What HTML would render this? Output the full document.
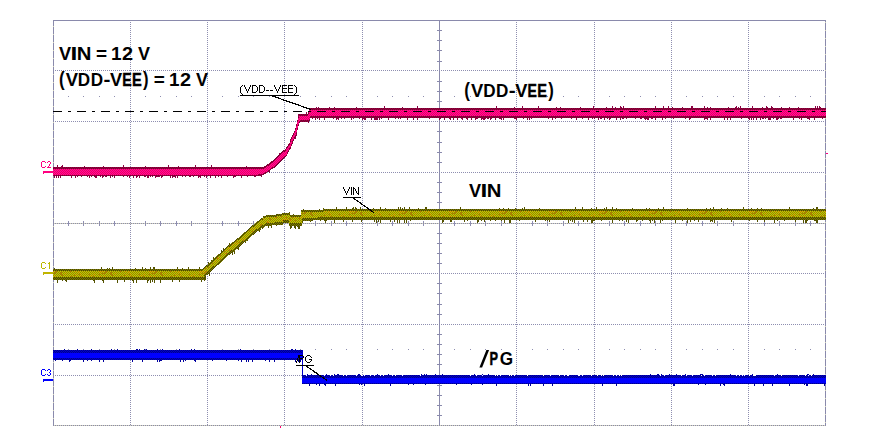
<!DOCTYPE html>
<html><head><meta charset="utf-8"><title>Scope capture</title>
<style>html,body{margin:0;padding:0;background:#fff;width:892px;height:443px;overflow:hidden}svg{display:block}
text{font-family:"Liberation Sans",sans-serif}</style></head>
<body><svg width="892" height="443" viewBox="0 0 892 443"><defs>
<pattern id="pmb" width="2" height="2" patternUnits="userSpaceOnUse"><rect width="2" height="2" fill="#ff0a9c"/><rect width="1" height="1" fill="#f0005e"/><rect x="1" y="1" width="1" height="1" fill="#f0005e"/></pattern>
<pattern id="pmd" width="2" height="2" patternUnits="userSpaceOnUse"><rect width="2" height="2" fill="#6e003a"/><rect width="1" height="1" fill="#a00036"/><rect x="1" y="1" width="1" height="1" fill="#a00036"/></pattern>
<pattern id="pyb" width="50" height="12" patternUnits="userSpaceOnUse"><rect width="50" height="12" fill="#c8c400"/><path d="M0,0h1v1h-1zM2,0h1v1h-1zM4,0h1v1h-1zM6,0h1v1h-1zM8,0h1v1h-1zM10,0h1v1h-1zM12,0h1v1h-1zM14,0h1v1h-1zM16,0h1v1h-1zM18,0h1v1h-1zM20,0h1v1h-1zM22,0h1v1h-1zM24,0h1v1h-1zM26,0h1v1h-1zM28,0h1v1h-1zM30,0h1v1h-1zM32,0h1v1h-1zM34,0h1v1h-1zM36,0h1v1h-1zM38,0h1v1h-1zM40,0h1v1h-1zM42,0h1v1h-1zM44,0h1v1h-1zM46,0h1v1h-1zM48,0h1v1h-1zM1,1h1v1h-1zM3,1h1v1h-1zM5,1h1v1h-1zM7,1h1v1h-1zM9,1h1v1h-1zM11,1h1v1h-1zM13,1h1v1h-1zM15,1h1v1h-1zM17,1h1v1h-1zM19,1h1v1h-1zM21,1h1v1h-1zM23,1h1v1h-1zM25,1h1v1h-1zM27,1h1v1h-1zM29,1h1v1h-1zM31,1h1v1h-1zM33,1h1v1h-1zM35,1h1v1h-1zM37,1h1v1h-1zM39,1h1v1h-1zM41,1h1v1h-1zM43,1h1v1h-1zM45,1h1v1h-1zM47,1h1v1h-1zM49,1h1v1h-1zM0,2h1v1h-1zM2,2h1v1h-1zM4,2h1v1h-1zM6,2h1v1h-1zM8,2h1v1h-1zM10,2h1v1h-1zM12,2h1v1h-1zM14,2h1v1h-1zM16,2h1v1h-1zM18,2h1v1h-1zM20,2h1v1h-1zM22,2h1v1h-1zM24,2h1v1h-1zM26,2h1v1h-1zM28,2h1v1h-1zM30,2h1v1h-1zM32,2h1v1h-1zM34,2h1v1h-1zM36,2h1v1h-1zM38,2h1v1h-1zM40,2h1v1h-1zM42,2h1v1h-1zM44,2h1v1h-1zM46,2h1v1h-1zM48,2h1v1h-1zM1,3h1v1h-1zM3,3h1v1h-1zM5,3h1v1h-1zM7,3h1v1h-1zM9,3h1v1h-1zM11,3h1v1h-1zM13,3h1v1h-1zM15,3h1v1h-1zM17,3h1v1h-1zM19,3h1v1h-1zM21,3h1v1h-1zM23,3h1v1h-1zM25,3h1v1h-1zM27,3h1v1h-1zM29,3h1v1h-1zM31,3h1v1h-1zM33,3h1v1h-1zM35,3h1v1h-1zM37,3h1v1h-1zM39,3h1v1h-1zM41,3h1v1h-1zM43,3h1v1h-1zM45,3h1v1h-1zM47,3h1v1h-1zM49,3h1v1h-1zM0,4h1v1h-1zM2,4h1v1h-1zM4,4h1v1h-1zM6,4h1v1h-1zM8,4h1v1h-1zM10,4h1v1h-1zM12,4h1v1h-1zM14,4h1v1h-1zM16,4h1v1h-1zM18,4h1v1h-1zM20,4h1v1h-1zM22,4h1v1h-1zM24,4h1v1h-1zM26,4h1v1h-1zM28,4h1v1h-1zM30,4h1v1h-1zM32,4h1v1h-1zM34,4h1v1h-1zM36,4h1v1h-1zM38,4h1v1h-1zM40,4h1v1h-1zM42,4h1v1h-1zM44,4h1v1h-1zM46,4h1v1h-1zM48,4h1v1h-1zM1,5h1v1h-1zM3,5h1v1h-1zM5,5h1v1h-1zM7,5h1v1h-1zM9,5h1v1h-1zM11,5h1v1h-1zM13,5h1v1h-1zM15,5h1v1h-1zM17,5h1v1h-1zM19,5h1v1h-1zM21,5h1v1h-1zM23,5h1v1h-1zM25,5h1v1h-1zM27,5h1v1h-1zM29,5h1v1h-1zM31,5h1v1h-1zM33,5h1v1h-1zM35,5h1v1h-1zM37,5h1v1h-1zM39,5h1v1h-1zM41,5h1v1h-1zM43,5h1v1h-1zM45,5h1v1h-1zM47,5h1v1h-1zM49,5h1v1h-1zM0,6h1v1h-1zM2,6h1v1h-1zM4,6h1v1h-1zM6,6h1v1h-1zM8,6h1v1h-1zM10,6h1v1h-1zM12,6h1v1h-1zM14,6h1v1h-1zM16,6h1v1h-1zM18,6h1v1h-1zM20,6h1v1h-1zM22,6h1v1h-1zM24,6h1v1h-1zM26,6h1v1h-1zM28,6h1v1h-1zM30,6h1v1h-1zM32,6h1v1h-1zM34,6h1v1h-1zM36,6h1v1h-1zM38,6h1v1h-1zM40,6h1v1h-1zM42,6h1v1h-1zM44,6h1v1h-1zM46,6h1v1h-1zM48,6h1v1h-1zM1,7h1v1h-1zM3,7h1v1h-1zM5,7h1v1h-1zM7,7h1v1h-1zM9,7h1v1h-1zM11,7h1v1h-1zM13,7h1v1h-1zM15,7h1v1h-1zM17,7h1v1h-1zM19,7h1v1h-1zM21,7h1v1h-1zM23,7h1v1h-1zM25,7h1v1h-1zM27,7h1v1h-1zM29,7h1v1h-1zM31,7h1v1h-1zM33,7h1v1h-1zM35,7h1v1h-1zM37,7h1v1h-1zM39,7h1v1h-1zM41,7h1v1h-1zM43,7h1v1h-1zM45,7h1v1h-1zM47,7h1v1h-1zM49,7h1v1h-1zM0,8h1v1h-1zM2,8h1v1h-1zM4,8h1v1h-1zM6,8h1v1h-1zM8,8h1v1h-1zM10,8h1v1h-1zM12,8h1v1h-1zM14,8h1v1h-1zM16,8h1v1h-1zM18,8h1v1h-1zM20,8h1v1h-1zM22,8h1v1h-1zM24,8h1v1h-1zM26,8h1v1h-1zM28,8h1v1h-1zM30,8h1v1h-1zM32,8h1v1h-1zM34,8h1v1h-1zM36,8h1v1h-1zM38,8h1v1h-1zM40,8h1v1h-1zM42,8h1v1h-1zM44,8h1v1h-1zM46,8h1v1h-1zM48,8h1v1h-1zM1,9h1v1h-1zM3,9h1v1h-1zM5,9h1v1h-1zM7,9h1v1h-1zM9,9h1v1h-1zM11,9h1v1h-1zM13,9h1v1h-1zM15,9h1v1h-1zM17,9h1v1h-1zM19,9h1v1h-1zM21,9h1v1h-1zM23,9h1v1h-1zM25,9h1v1h-1zM27,9h1v1h-1zM29,9h1v1h-1zM31,9h1v1h-1zM33,9h1v1h-1zM35,9h1v1h-1zM37,9h1v1h-1zM39,9h1v1h-1zM41,9h1v1h-1zM43,9h1v1h-1zM45,9h1v1h-1zM47,9h1v1h-1zM49,9h1v1h-1zM0,10h1v1h-1zM2,10h1v1h-1zM4,10h1v1h-1zM6,10h1v1h-1zM8,10h1v1h-1zM10,10h1v1h-1zM12,10h1v1h-1zM14,10h1v1h-1zM16,10h1v1h-1zM18,10h1v1h-1zM20,10h1v1h-1zM22,10h1v1h-1zM24,10h1v1h-1zM26,10h1v1h-1zM28,10h1v1h-1zM30,10h1v1h-1zM32,10h1v1h-1zM34,10h1v1h-1zM36,10h1v1h-1zM38,10h1v1h-1zM40,10h1v1h-1zM42,10h1v1h-1zM44,10h1v1h-1zM46,10h1v1h-1zM48,10h1v1h-1zM1,11h1v1h-1zM3,11h1v1h-1zM5,11h1v1h-1zM7,11h1v1h-1zM9,11h1v1h-1zM11,11h1v1h-1zM13,11h1v1h-1zM15,11h1v1h-1zM17,11h1v1h-1zM19,11h1v1h-1zM21,11h1v1h-1zM23,11h1v1h-1zM25,11h1v1h-1zM27,11h1v1h-1zM29,11h1v1h-1zM31,11h1v1h-1zM33,11h1v1h-1zM35,11h1v1h-1zM37,11h1v1h-1zM39,11h1v1h-1zM41,11h1v1h-1zM43,11h1v1h-1zM45,11h1v1h-1zM47,11h1v1h-1zM49,11h1v1h-1z" fill="#8e8c00"/><path d="M28,8h1v1h-1zM49,7h1v1h-1zM28,8h1v1h-1zM37,3h1v1h-1zM11,8h1v1h-1zM30,10h1v1h-1zM39,2h1v1h-1zM6,7h1v1h-1zM19,2h1v1h-1zM5,8h1v1h-1zM44,10h1v1h-1zM2,9h1v1h-1zM25,7h1v1h-1zM41,11h1v1h-1zM39,10h1v1h-1zM10,9h1v1h-1zM0,8h1v1h-1zM4,0h1v1h-1zM2,3h1v1h-1zM15,9h1v1h-1zM1,7h1v1h-1zM20,7h1v1h-1zM37,3h1v1h-1zM33,3h1v1h-1zM40,4h1v1h-1zM31,0h1v1h-1zM42,1h1v1h-1zM29,10h1v1h-1zM17,6h1v1h-1zM35,1h1v1h-1zM45,4h1v1h-1zM20,3h1v1h-1zM32,4h1v1h-1zM1,1h1v1h-1zM36,1h1v1h-1zM25,1h1v1h-1zM18,6h1v1h-1zM4,0h1v1h-1zM43,0h1v1h-1zM13,3h1v1h-1zM3,7h1v1h-1zM24,11h1v1h-1zM25,6h1v1h-1zM4,9h1v1h-1zM40,3h1v1h-1zM49,10h1v1h-1zM17,5h1v1h-1zM5,4h1v1h-1zM21,0h1v1h-1zM26,1h1v1h-1zM8,3h1v1h-1zM45,1h1v1h-1zM0,0h1v1h-1zM29,7h1v1h-1zM11,10h1v1h-1zM35,3h1v1h-1zM28,8h1v1h-1zM12,11h1v1h-1zM49,2h1v1h-1zM26,10h1v1h-1z" fill="#c47400"/></pattern>
<pattern id="pyd" width="2" height="2" patternUnits="userSpaceOnUse"><rect width="2" height="2" fill="#4a4800"/><rect width="1" height="1" fill="#7c7a00"/><rect x="1" y="1" width="1" height="1" fill="#7c7a00"/></pattern>
<pattern id="pbd" width="2" height="2" patternUnits="userSpaceOnUse"><rect width="2" height="2" fill="#00008c"/><rect width="1" height="1" fill="#0000c8"/><rect x="1" y="1" width="1" height="1" fill="#0000c8"/></pattern>
</defs><rect width="892" height="443" fill="#fff"/><g shape-rendering="crispEdges"><line x1="130.5" y1="22" x2="130.5" y2="425" stroke="#8e8eb0" stroke-dasharray="1 1"/><line x1="207.5" y1="22" x2="207.5" y2="425" stroke="#8e8eb0" stroke-dasharray="1 1"/><line x1="284.5" y1="22" x2="284.5" y2="425" stroke="#8e8eb0" stroke-dasharray="1 1"/><line x1="362.5" y1="22" x2="362.5" y2="425" stroke="#8e8eb0" stroke-dasharray="1 1"/><line x1="516.5" y1="22" x2="516.5" y2="425" stroke="#8e8eb0" stroke-dasharray="1 1"/><line x1="594.5" y1="22" x2="594.5" y2="425" stroke="#8e8eb0" stroke-dasharray="1 1"/><line x1="671.5" y1="22" x2="671.5" y2="425" stroke="#8e8eb0" stroke-dasharray="1 1"/><line x1="748.5" y1="22" x2="748.5" y2="425" stroke="#8e8eb0" stroke-dasharray="1 1"/><line x1="55" y1="70.5" x2="825" y2="70.5" stroke="#8e8eb0" stroke-dasharray="1 1"/><line x1="55" y1="121.5" x2="825" y2="121.5" stroke="#8e8eb0" stroke-dasharray="1 1"/><line x1="55" y1="172.5" x2="825" y2="172.5" stroke="#8e8eb0" stroke-dasharray="1 1"/><line x1="55" y1="273.5" x2="825" y2="273.5" stroke="#8e8eb0" stroke-dasharray="1 1"/><line x1="55" y1="324.5" x2="825" y2="324.5" stroke="#8e8eb0" stroke-dasharray="1 1"/><line x1="55" y1="375.5" x2="825" y2="375.5" stroke="#8e8eb0" stroke-dasharray="1 1"/><line x1="54" y1="223.5" x2="825" y2="223.5" stroke="#d2d2ba"/><line x1="55" y1="223.5" x2="825" y2="223.5" stroke="#8e8eb0" stroke-dasharray="1 1"/><line x1="68.5" y1="221" x2="68.5" y2="226" stroke="#8e8eb0"/><line x1="83.5" y1="221" x2="83.5" y2="226" stroke="#8e8eb0"/><line x1="99.5" y1="221" x2="99.5" y2="226" stroke="#8e8eb0"/><line x1="114.5" y1="221" x2="114.5" y2="226" stroke="#8e8eb0"/><line x1="145.5" y1="221" x2="145.5" y2="226" stroke="#8e8eb0"/><line x1="160.5" y1="221" x2="160.5" y2="226" stroke="#8e8eb0"/><line x1="176.5" y1="221" x2="176.5" y2="226" stroke="#8e8eb0"/><line x1="191.5" y1="221" x2="191.5" y2="226" stroke="#8e8eb0"/><line x1="222.5" y1="221" x2="222.5" y2="226" stroke="#8e8eb0"/><line x1="238.5" y1="221" x2="238.5" y2="226" stroke="#8e8eb0"/><line x1="253.5" y1="221" x2="253.5" y2="226" stroke="#8e8eb0"/><line x1="269.5" y1="221" x2="269.5" y2="226" stroke="#8e8eb0"/><line x1="300.5" y1="221" x2="300.5" y2="226" stroke="#8e8eb0"/><line x1="315.5" y1="221" x2="315.5" y2="226" stroke="#8e8eb0"/><line x1="331.5" y1="221" x2="331.5" y2="226" stroke="#8e8eb0"/><line x1="346.5" y1="221" x2="346.5" y2="226" stroke="#8e8eb0"/><line x1="377.5" y1="221" x2="377.5" y2="226" stroke="#8e8eb0"/><line x1="392.5" y1="221" x2="392.5" y2="226" stroke="#8e8eb0"/><line x1="408.5" y1="221" x2="408.5" y2="226" stroke="#8e8eb0"/><line x1="423.5" y1="221" x2="423.5" y2="226" stroke="#8e8eb0"/><line x1="454.5" y1="221" x2="454.5" y2="226" stroke="#8e8eb0"/><line x1="470.5" y1="221" x2="470.5" y2="226" stroke="#8e8eb0"/><line x1="485.5" y1="221" x2="485.5" y2="226" stroke="#8e8eb0"/><line x1="501.5" y1="221" x2="501.5" y2="226" stroke="#8e8eb0"/><line x1="532.5" y1="221" x2="532.5" y2="226" stroke="#8e8eb0"/><line x1="547.5" y1="221" x2="547.5" y2="226" stroke="#8e8eb0"/><line x1="563.5" y1="221" x2="563.5" y2="226" stroke="#8e8eb0"/><line x1="578.5" y1="221" x2="578.5" y2="226" stroke="#8e8eb0"/><line x1="609.5" y1="221" x2="609.5" y2="226" stroke="#8e8eb0"/><line x1="624.5" y1="221" x2="624.5" y2="226" stroke="#8e8eb0"/><line x1="640.5" y1="221" x2="640.5" y2="226" stroke="#8e8eb0"/><line x1="655.5" y1="221" x2="655.5" y2="226" stroke="#8e8eb0"/><line x1="686.5" y1="221" x2="686.5" y2="226" stroke="#8e8eb0"/><line x1="702.5" y1="221" x2="702.5" y2="226" stroke="#8e8eb0"/><line x1="717.5" y1="221" x2="717.5" y2="226" stroke="#8e8eb0"/><line x1="733.5" y1="221" x2="733.5" y2="226" stroke="#8e8eb0"/><line x1="764.5" y1="221" x2="764.5" y2="226" stroke="#8e8eb0"/><line x1="779.5" y1="221" x2="779.5" y2="226" stroke="#8e8eb0"/><line x1="795.5" y1="221" x2="795.5" y2="226" stroke="#8e8eb0"/><line x1="810.5" y1="221" x2="810.5" y2="226" stroke="#8e8eb0"/><line x1="439.5" y1="20" x2="439.5" y2="425" stroke="#8a8aac"/><line x1="437" y1="30.5" x2="442" y2="30.5" stroke="#8a8aac"/><line x1="437" y1="40.5" x2="442" y2="40.5" stroke="#8a8aac"/><line x1="437" y1="50.5" x2="442" y2="50.5" stroke="#8a8aac"/><line x1="437" y1="61.5" x2="442" y2="61.5" stroke="#8a8aac"/><line x1="437" y1="81.5" x2="442" y2="81.5" stroke="#8a8aac"/><line x1="437" y1="91.5" x2="442" y2="91.5" stroke="#8a8aac"/><line x1="437" y1="101.5" x2="442" y2="101.5" stroke="#8a8aac"/><line x1="437" y1="111.5" x2="442" y2="111.5" stroke="#8a8aac"/><line x1="437" y1="131.5" x2="442" y2="131.5" stroke="#8a8aac"/><line x1="437" y1="142.5" x2="442" y2="142.5" stroke="#8a8aac"/><line x1="437" y1="152.5" x2="442" y2="152.5" stroke="#8a8aac"/><line x1="437" y1="162.5" x2="442" y2="162.5" stroke="#8a8aac"/><line x1="437" y1="182.5" x2="442" y2="182.5" stroke="#8a8aac"/><line x1="437" y1="192.5" x2="442" y2="192.5" stroke="#8a8aac"/><line x1="437" y1="202.5" x2="442" y2="202.5" stroke="#8a8aac"/><line x1="437" y1="212.5" x2="442" y2="212.5" stroke="#8a8aac"/><line x1="437" y1="233.5" x2="442" y2="233.5" stroke="#8a8aac"/><line x1="437" y1="243.5" x2="442" y2="243.5" stroke="#8a8aac"/><line x1="437" y1="253.5" x2="442" y2="253.5" stroke="#8a8aac"/><line x1="437" y1="263.5" x2="442" y2="263.5" stroke="#8a8aac"/><line x1="437" y1="283.5" x2="442" y2="283.5" stroke="#8a8aac"/><line x1="437" y1="293.5" x2="442" y2="293.5" stroke="#8a8aac"/><line x1="437" y1="304.5" x2="442" y2="304.5" stroke="#8a8aac"/><line x1="437" y1="314.5" x2="442" y2="314.5" stroke="#8a8aac"/><line x1="437" y1="334.5" x2="442" y2="334.5" stroke="#8a8aac"/><line x1="437" y1="344.5" x2="442" y2="344.5" stroke="#8a8aac"/><line x1="437" y1="354.5" x2="442" y2="354.5" stroke="#8a8aac"/><line x1="437" y1="364.5" x2="442" y2="364.5" stroke="#8a8aac"/><line x1="437" y1="385.5" x2="442" y2="385.5" stroke="#8a8aac"/><line x1="437" y1="395.5" x2="442" y2="395.5" stroke="#8a8aac"/><line x1="437" y1="405.5" x2="442" y2="405.5" stroke="#8a8aac"/><line x1="437" y1="415.5" x2="442" y2="415.5" stroke="#8a8aac"/><rect x="68" y="96" width="1" height="1" fill="#8e8eb0"/><rect x="83" y="96" width="1" height="1" fill="#8e8eb0"/><rect x="99" y="96" width="1" height="1" fill="#8e8eb0"/><rect x="114" y="96" width="1" height="1" fill="#8e8eb0"/><rect x="145" y="96" width="1" height="1" fill="#8e8eb0"/><rect x="160" y="96" width="1" height="1" fill="#8e8eb0"/><rect x="176" y="96" width="1" height="1" fill="#8e8eb0"/><rect x="191" y="96" width="1" height="1" fill="#8e8eb0"/><rect x="222" y="96" width="1" height="1" fill="#8e8eb0"/><rect x="238" y="96" width="1" height="1" fill="#8e8eb0"/><rect x="253" y="96" width="1" height="1" fill="#8e8eb0"/><rect x="269" y="96" width="1" height="1" fill="#8e8eb0"/><rect x="300" y="96" width="1" height="1" fill="#8e8eb0"/><rect x="315" y="96" width="1" height="1" fill="#8e8eb0"/><rect x="331" y="96" width="1" height="1" fill="#8e8eb0"/><rect x="346" y="96" width="1" height="1" fill="#8e8eb0"/><rect x="377" y="96" width="1" height="1" fill="#8e8eb0"/><rect x="392" y="96" width="1" height="1" fill="#8e8eb0"/><rect x="408" y="96" width="1" height="1" fill="#8e8eb0"/><rect x="423" y="96" width="1" height="1" fill="#8e8eb0"/><rect x="454" y="96" width="1" height="1" fill="#8e8eb0"/><rect x="470" y="96" width="1" height="1" fill="#8e8eb0"/><rect x="485" y="96" width="1" height="1" fill="#8e8eb0"/><rect x="501" y="96" width="1" height="1" fill="#8e8eb0"/><rect x="532" y="96" width="1" height="1" fill="#8e8eb0"/><rect x="547" y="96" width="1" height="1" fill="#8e8eb0"/><rect x="563" y="96" width="1" height="1" fill="#8e8eb0"/><rect x="578" y="96" width="1" height="1" fill="#8e8eb0"/><rect x="609" y="96" width="1" height="1" fill="#8e8eb0"/><rect x="624" y="96" width="1" height="1" fill="#8e8eb0"/><rect x="640" y="96" width="1" height="1" fill="#8e8eb0"/><rect x="655" y="96" width="1" height="1" fill="#8e8eb0"/><rect x="686" y="96" width="1" height="1" fill="#8e8eb0"/><rect x="702" y="96" width="1" height="1" fill="#8e8eb0"/><rect x="717" y="96" width="1" height="1" fill="#8e8eb0"/><rect x="733" y="96" width="1" height="1" fill="#8e8eb0"/><rect x="764" y="96" width="1" height="1" fill="#8e8eb0"/><rect x="779" y="96" width="1" height="1" fill="#8e8eb0"/><rect x="795" y="96" width="1" height="1" fill="#8e8eb0"/><rect x="810" y="96" width="1" height="1" fill="#8e8eb0"/><rect x="68" y="349" width="1" height="1" fill="#8e8eb0"/><rect x="83" y="349" width="1" height="1" fill="#8e8eb0"/><rect x="99" y="349" width="1" height="1" fill="#8e8eb0"/><rect x="114" y="349" width="1" height="1" fill="#8e8eb0"/><rect x="145" y="349" width="1" height="1" fill="#8e8eb0"/><rect x="160" y="349" width="1" height="1" fill="#8e8eb0"/><rect x="176" y="349" width="1" height="1" fill="#8e8eb0"/><rect x="191" y="349" width="1" height="1" fill="#8e8eb0"/><rect x="222" y="349" width="1" height="1" fill="#8e8eb0"/><rect x="238" y="349" width="1" height="1" fill="#8e8eb0"/><rect x="253" y="349" width="1" height="1" fill="#8e8eb0"/><rect x="269" y="349" width="1" height="1" fill="#8e8eb0"/><rect x="300" y="349" width="1" height="1" fill="#8e8eb0"/><rect x="315" y="349" width="1" height="1" fill="#8e8eb0"/><rect x="331" y="349" width="1" height="1" fill="#8e8eb0"/><rect x="346" y="349" width="1" height="1" fill="#8e8eb0"/><rect x="377" y="349" width="1" height="1" fill="#8e8eb0"/><rect x="392" y="349" width="1" height="1" fill="#8e8eb0"/><rect x="408" y="349" width="1" height="1" fill="#8e8eb0"/><rect x="423" y="349" width="1" height="1" fill="#8e8eb0"/><rect x="454" y="349" width="1" height="1" fill="#8e8eb0"/><rect x="470" y="349" width="1" height="1" fill="#8e8eb0"/><rect x="485" y="349" width="1" height="1" fill="#8e8eb0"/><rect x="501" y="349" width="1" height="1" fill="#8e8eb0"/><rect x="532" y="349" width="1" height="1" fill="#8e8eb0"/><rect x="547" y="349" width="1" height="1" fill="#8e8eb0"/><rect x="563" y="349" width="1" height="1" fill="#8e8eb0"/><rect x="578" y="349" width="1" height="1" fill="#8e8eb0"/><rect x="609" y="349" width="1" height="1" fill="#8e8eb0"/><rect x="624" y="349" width="1" height="1" fill="#8e8eb0"/><rect x="640" y="349" width="1" height="1" fill="#8e8eb0"/><rect x="655" y="349" width="1" height="1" fill="#8e8eb0"/><rect x="686" y="349" width="1" height="1" fill="#8e8eb0"/><rect x="702" y="349" width="1" height="1" fill="#8e8eb0"/><rect x="717" y="349" width="1" height="1" fill="#8e8eb0"/><rect x="733" y="349" width="1" height="1" fill="#8e8eb0"/><rect x="764" y="349" width="1" height="1" fill="#8e8eb0"/><rect x="779" y="349" width="1" height="1" fill="#8e8eb0"/><rect x="795" y="349" width="1" height="1" fill="#8e8eb0"/><rect x="810" y="349" width="1" height="1" fill="#8e8eb0"/><line x1="53" y1="20.5" x2="826" y2="20.5" stroke="#8a8aac"/><line x1="53.5" y1="20" x2="53.5" y2="426" stroke="#8a8aac"/><line x1="825.5" y1="20" x2="825.5" y2="426" stroke="#8a8aac"/><line x1="54" y1="425.5" x2="825" y2="425.5" stroke="#d2d2ba"/><line x1="55" y1="425.5" x2="825" y2="425.5" stroke="#8a8aac" stroke-dasharray="1 1"/><rect x="53" y="26" width="1" height="1" fill="#d2d2ba"/><rect x="53" y="34" width="1" height="1" fill="#d2d2ba"/><rect x="53" y="42" width="1" height="1" fill="#d2d2ba"/><rect x="53" y="50" width="1" height="1" fill="#d2d2ba"/><rect x="53" y="58" width="1" height="1" fill="#d2d2ba"/><rect x="53" y="66" width="1" height="1" fill="#d2d2ba"/><rect x="53" y="74" width="1" height="1" fill="#d2d2ba"/><rect x="53" y="82" width="1" height="1" fill="#d2d2ba"/><rect x="53" y="90" width="1" height="1" fill="#d2d2ba"/><rect x="53" y="98" width="1" height="1" fill="#d2d2ba"/><rect x="53" y="106" width="1" height="1" fill="#d2d2ba"/><rect x="53" y="114" width="1" height="1" fill="#d2d2ba"/><rect x="53" y="122" width="1" height="1" fill="#d2d2ba"/><rect x="53" y="130" width="1" height="1" fill="#d2d2ba"/><rect x="53" y="138" width="1" height="1" fill="#d2d2ba"/><rect x="53" y="146" width="1" height="1" fill="#d2d2ba"/><rect x="53" y="154" width="1" height="1" fill="#d2d2ba"/><rect x="53" y="162" width="1" height="1" fill="#d2d2ba"/><rect x="53" y="170" width="1" height="1" fill="#d2d2ba"/><rect x="53" y="178" width="1" height="1" fill="#d2d2ba"/><rect x="53" y="186" width="1" height="1" fill="#d2d2ba"/><rect x="53" y="194" width="1" height="1" fill="#d2d2ba"/><rect x="53" y="202" width="1" height="1" fill="#d2d2ba"/><rect x="53" y="210" width="1" height="1" fill="#d2d2ba"/><rect x="53" y="218" width="1" height="1" fill="#d2d2ba"/><rect x="53" y="226" width="1" height="1" fill="#d2d2ba"/><rect x="53" y="234" width="1" height="1" fill="#d2d2ba"/><rect x="53" y="242" width="1" height="1" fill="#d2d2ba"/><rect x="53" y="250" width="1" height="1" fill="#d2d2ba"/><rect x="53" y="258" width="1" height="1" fill="#d2d2ba"/><rect x="53" y="266" width="1" height="1" fill="#d2d2ba"/><rect x="53" y="274" width="1" height="1" fill="#d2d2ba"/><rect x="53" y="282" width="1" height="1" fill="#d2d2ba"/><rect x="53" y="290" width="1" height="1" fill="#d2d2ba"/><rect x="53" y="298" width="1" height="1" fill="#d2d2ba"/><rect x="53" y="306" width="1" height="1" fill="#d2d2ba"/><rect x="53" y="314" width="1" height="1" fill="#d2d2ba"/><rect x="53" y="322" width="1" height="1" fill="#d2d2ba"/><rect x="53" y="330" width="1" height="1" fill="#d2d2ba"/><rect x="53" y="338" width="1" height="1" fill="#d2d2ba"/><rect x="53" y="346" width="1" height="1" fill="#d2d2ba"/><rect x="53" y="354" width="1" height="1" fill="#d2d2ba"/><rect x="53" y="362" width="1" height="1" fill="#d2d2ba"/><rect x="53" y="370" width="1" height="1" fill="#d2d2ba"/><rect x="53" y="378" width="1" height="1" fill="#d2d2ba"/><rect x="53" y="386" width="1" height="1" fill="#d2d2ba"/><rect x="53" y="394" width="1" height="1" fill="#d2d2ba"/><rect x="53" y="402" width="1" height="1" fill="#d2d2ba"/><rect x="53" y="410" width="1" height="1" fill="#d2d2ba"/><rect x="53" y="418" width="1" height="1" fill="#d2d2ba"/><rect x="825" y="22" width="1" height="1" fill="#d2d2ba"/><rect x="825" y="30" width="1" height="1" fill="#d2d2ba"/><rect x="825" y="38" width="1" height="1" fill="#d2d2ba"/><rect x="825" y="46" width="1" height="1" fill="#d2d2ba"/><rect x="825" y="54" width="1" height="1" fill="#d2d2ba"/><rect x="825" y="62" width="1" height="1" fill="#d2d2ba"/><rect x="825" y="70" width="1" height="1" fill="#d2d2ba"/><rect x="825" y="78" width="1" height="1" fill="#d2d2ba"/><rect x="825" y="86" width="1" height="1" fill="#d2d2ba"/><rect x="825" y="94" width="1" height="1" fill="#d2d2ba"/><rect x="825" y="102" width="1" height="1" fill="#d2d2ba"/><rect x="825" y="110" width="1" height="1" fill="#d2d2ba"/><rect x="825" y="118" width="1" height="1" fill="#d2d2ba"/><rect x="825" y="126" width="1" height="1" fill="#d2d2ba"/><rect x="825" y="134" width="1" height="1" fill="#d2d2ba"/><rect x="825" y="142" width="1" height="1" fill="#d2d2ba"/><rect x="825" y="150" width="1" height="1" fill="#d2d2ba"/><rect x="825" y="158" width="1" height="1" fill="#d2d2ba"/><rect x="825" y="166" width="1" height="1" fill="#d2d2ba"/><rect x="825" y="174" width="1" height="1" fill="#d2d2ba"/><rect x="825" y="182" width="1" height="1" fill="#d2d2ba"/><rect x="825" y="190" width="1" height="1" fill="#d2d2ba"/><rect x="825" y="198" width="1" height="1" fill="#d2d2ba"/><rect x="825" y="206" width="1" height="1" fill="#d2d2ba"/><rect x="825" y="214" width="1" height="1" fill="#d2d2ba"/><rect x="825" y="222" width="1" height="1" fill="#d2d2ba"/><rect x="825" y="230" width="1" height="1" fill="#d2d2ba"/><rect x="825" y="238" width="1" height="1" fill="#d2d2ba"/><rect x="825" y="246" width="1" height="1" fill="#d2d2ba"/><rect x="825" y="254" width="1" height="1" fill="#d2d2ba"/><rect x="825" y="262" width="1" height="1" fill="#d2d2ba"/><rect x="825" y="270" width="1" height="1" fill="#d2d2ba"/><rect x="825" y="278" width="1" height="1" fill="#d2d2ba"/><rect x="825" y="286" width="1" height="1" fill="#d2d2ba"/><rect x="825" y="294" width="1" height="1" fill="#d2d2ba"/><rect x="825" y="302" width="1" height="1" fill="#d2d2ba"/><rect x="825" y="310" width="1" height="1" fill="#d2d2ba"/><rect x="825" y="318" width="1" height="1" fill="#d2d2ba"/><rect x="825" y="326" width="1" height="1" fill="#d2d2ba"/><rect x="825" y="334" width="1" height="1" fill="#d2d2ba"/><rect x="825" y="342" width="1" height="1" fill="#d2d2ba"/><rect x="825" y="350" width="1" height="1" fill="#d2d2ba"/><rect x="825" y="358" width="1" height="1" fill="#d2d2ba"/><rect x="825" y="366" width="1" height="1" fill="#d2d2ba"/><rect x="825" y="374" width="1" height="1" fill="#d2d2ba"/><rect x="825" y="382" width="1" height="1" fill="#d2d2ba"/><rect x="825" y="390" width="1" height="1" fill="#d2d2ba"/><rect x="825" y="398" width="1" height="1" fill="#d2d2ba"/><rect x="825" y="406" width="1" height="1" fill="#d2d2ba"/><rect x="825" y="414" width="1" height="1" fill="#d2d2ba"/><rect x="825" y="422" width="1" height="1" fill="#d2d2ba"/></g><g shape-rendering="crispEdges"><path d="M54,176h1v2h-1zM56,176h1v2h-1zM57,165h1v2h-1zM58,176h1v2h-1zM60,176h1v2h-1zM61,166h1v1h-1zM62,165h1v2h-1zM71,176h1v2h-1zM75,176h1v2h-1zM77,176h1v1h-1zM81,176h1v1h-1zM84,166h1v1h-1zM87,176h1v1h-1zM89,176h1v2h-1zM91,176h1v1h-1zM94,176h1v1h-1zM95,176h1v2h-1zM96,176h1v2h-1zM100,176h1v1h-1zM102,176h1v2h-1zM103,166h1v1h-1zM103,176h1v1h-1zM105,176h1v1h-1zM106,176h1v1h-1zM110,176h1v2h-1zM112,176h1v1h-1zM114,176h1v2h-1zM123,165h1v2h-1zM123,176h1v1h-1zM127,176h1v1h-1zM129,176h1v2h-1zM133,176h1v2h-1zM136,176h1v2h-1zM137,176h1v1h-1zM139,176h1v2h-1zM144,176h1v1h-1zM145,166h1v1h-1zM145,176h1v1h-1zM147,176h1v2h-1zM148,176h1v2h-1zM150,176h1v1h-1zM152,176h1v1h-1zM155,176h1v2h-1zM156,176h1v1h-1zM157,176h1v1h-1zM158,176h1v1h-1zM159,176h1v1h-1zM161,176h1v2h-1zM162,176h1v1h-1zM168,165h1v2h-1zM170,176h1v2h-1zM172,176h1v2h-1zM173,176h1v1h-1zM174,176h1v1h-1zM175,176h1v2h-1zM177,176h1v2h-1zM178,166h1v1h-1zM182,176h1v1h-1zM185,176h1v1h-1zM189,176h1v1h-1zM190,176h1v1h-1zM193,176h1v1h-1zM195,165h1v2h-1zM198,176h1v2h-1zM199,176h1v1h-1zM200,176h1v2h-1zM204,176h1v1h-1zM206,176h1v2h-1zM210,176h1v2h-1zM211,165h1v2h-1zM215,176h1v2h-1zM218,176h1v1h-1zM221,176h1v2h-1zM227,176h1v1h-1zM233,176h1v2h-1zM234,176h1v1h-1zM235,176h1v1h-1zM241,176h1v2h-1zM246,166h1v1h-1zM247,176h1v1h-1zM254,176h1v1h-1zM255,176h1v1h-1zM261,175h1v2h-1zM269,171h1v2h-1zM279,153h1v1h-1zM290,139h1v1h-1zM292,143h1v1h-1zM295,137h1v2h-1zM296,134h1v2h-1zM298,114h1v2h-1zM306,112h1v2h-1zM308,122h1v1h-1zM312,118h1v1h-1zM315,118h1v2h-1zM316,107h1v1h-1zM317,118h1v1h-1zM318,107h1v1h-1zM319,118h1v2h-1zM324,118h1v2h-1zM329,107h1v1h-1zM333,118h1v1h-1zM334,107h1v1h-1zM336,118h1v2h-1zM337,118h1v1h-1zM338,118h1v2h-1zM341,118h1v1h-1zM344,118h1v1h-1zM351,118h1v2h-1zM353,118h1v1h-1zM356,107h1v1h-1zM359,118h1v1h-1zM362,118h1v2h-1zM363,118h1v1h-1zM364,118h1v2h-1zM365,118h1v2h-1zM371,118h1v2h-1zM374,118h1v2h-1zM375,118h1v2h-1zM376,118h1v2h-1zM377,118h1v2h-1zM379,118h1v2h-1zM381,118h1v1h-1zM384,106h1v2h-1zM388,118h1v2h-1zM395,118h1v1h-1zM398,118h1v1h-1zM400,118h1v1h-1zM402,107h1v1h-1zM407,118h1v2h-1zM413,118h1v2h-1zM417,106h1v2h-1zM417,118h1v2h-1zM429,118h1v1h-1zM439,118h1v2h-1zM440,118h1v1h-1zM444,118h1v2h-1zM449,118h1v1h-1zM450,118h1v2h-1zM453,118h1v2h-1zM457,118h1v2h-1zM461,118h1v1h-1zM462,118h1v2h-1zM466,118h1v1h-1zM467,118h1v2h-1zM471,118h1v2h-1zM475,118h1v2h-1zM476,118h1v1h-1zM477,118h1v1h-1zM481,118h1v2h-1zM482,118h1v1h-1zM483,118h1v2h-1zM484,118h1v2h-1zM485,118h1v1h-1zM487,118h1v1h-1zM488,118h1v1h-1zM490,118h1v2h-1zM491,118h1v1h-1zM495,118h1v2h-1zM496,106h1v2h-1zM499,118h1v1h-1zM500,118h1v1h-1zM501,118h1v2h-1zM503,118h1v2h-1zM514,107h1v1h-1zM514,118h1v1h-1zM515,118h1v1h-1zM516,118h1v2h-1zM522,106h1v2h-1zM523,118h1v1h-1zM527,118h1v2h-1zM529,118h1v2h-1zM531,118h1v1h-1zM538,106h1v2h-1zM548,118h1v1h-1zM552,118h1v2h-1zM555,118h1v1h-1zM556,107h1v1h-1zM560,107h1v1h-1zM561,118h1v1h-1zM571,118h1v1h-1zM576,118h1v2h-1zM580,107h1v1h-1zM582,118h1v1h-1zM588,118h1v2h-1zM592,118h1v1h-1zM593,106h1v2h-1zM594,118h1v1h-1zM598,118h1v2h-1zM600,118h1v1h-1zM601,118h1v1h-1zM604,118h1v2h-1zM606,107h1v1h-1zM607,118h1v1h-1zM609,118h1v2h-1zM610,118h1v1h-1zM612,106h1v2h-1zM615,107h1v1h-1zM616,118h1v2h-1zM620,106h1v2h-1zM620,118h1v2h-1zM621,107h1v1h-1zM622,118h1v1h-1zM623,106h1v2h-1zM623,118h1v1h-1zM626,118h1v1h-1zM635,118h1v1h-1zM640,118h1v1h-1zM641,118h1v1h-1zM644,118h1v1h-1zM645,118h1v2h-1zM646,118h1v1h-1zM647,118h1v2h-1zM648,118h1v2h-1zM651,118h1v1h-1zM652,118h1v1h-1zM655,106h1v2h-1zM655,118h1v2h-1zM662,118h1v2h-1zM663,106h1v2h-1zM665,118h1v1h-1zM668,106h1v2h-1zM672,107h1v1h-1zM673,118h1v1h-1zM682,107h1v1h-1zM685,118h1v1h-1zM689,118h1v2h-1zM690,118h1v1h-1zM691,106h1v2h-1zM692,106h1v2h-1zM704,106h1v2h-1zM704,118h1v2h-1zM705,118h1v1h-1zM706,118h1v1h-1zM707,107h1v1h-1zM707,118h1v2h-1zM710,107h1v1h-1zM710,118h1v2h-1zM724,118h1v2h-1zM727,118h1v2h-1zM728,107h1v1h-1zM730,118h1v2h-1zM735,107h1v1h-1zM736,106h1v2h-1zM738,107h1v1h-1zM740,106h1v2h-1zM741,118h1v1h-1zM748,118h1v1h-1zM749,118h1v2h-1zM751,118h1v2h-1zM752,106h1v2h-1zM753,118h1v2h-1zM756,118h1v2h-1zM760,118h1v2h-1zM762,107h1v1h-1zM762,118h1v1h-1zM763,118h1v1h-1zM765,118h1v1h-1zM766,106h1v2h-1zM767,107h1v1h-1zM768,118h1v2h-1zM769,118h1v2h-1zM770,118h1v2h-1zM771,106h1v2h-1zM772,107h1v1h-1zM773,118h1v1h-1zM776,118h1v2h-1zM777,118h1v2h-1zM778,118h1v1h-1zM780,118h1v1h-1zM781,107h1v1h-1zM781,118h1v1h-1zM789,107h1v1h-1zM793,118h1v2h-1zM798,107h1v1h-1zM799,118h1v1h-1zM801,118h1v2h-1zM807,118h1v1h-1zM808,118h1v1h-1zM809,118h1v2h-1zM814,118h1v2h-1zM815,106h1v2h-1zM817,106h1v2h-1zM819,106h1v2h-1zM820,107h1v1h-1zM822,118h1v1h-1z" fill="#8c0044"/><path d="M53,167H264V166H266V165H267V164H269V163H270V162H271V161H273V160H274V159H275V158H276V157H277V156H278V155H279V154H280V153H281V152H282V151H283V150H285V149H286V147H287V146H288V144H289V143H290V140H291V137H292V135H293V133H294V131H295V128H296V124H297V120H298V116H299V114H308V112H309V108H826V118H310V121H309V122H300V123H299V126H298V130H297V134H296V137H295V139H294V141H293V143H292V146H291V149H290V150H289V152H288V154H287V156H286V157H285V158H284V159H283V160H282V161H281V162H280V163H279V164H278V165H277V166H276V167H275V168H273V169H271V170H270V171H269V172H267V173H266V174H264V175H261V176H53Z" fill="url(#pmd)"/><path d="M53,169H264V168H266V167H267V166H269V165H270V164H271V163H273V162H274V161H275V160H276V159H277V158H278V157H279V156H280V155H281V154H282V153H283V152H285V151H286V149H287V148H288V146H289V145H290V142H291V139H292V137H293V135H294V133H295V130H296V126H297V122H298V118H299V116H308V114H309V110H826V116H310V119H309V120H300V121H299V124H298V128H297V132H296V135H295V137H294V139H293V141H292V144H291V147H290V148H289V150H288V152H287V155H286V156H284V157H283V158H282V159H281V160H280V161H279V162H278V163H277V164H276V165H275V166H274V167H272V168H271V169H270V170H268V171H267V172H265V173H263V174H258V175H53Z" fill="url(#pmb)"/><path d="M54,268h1v1h-1zM57,280h1v3h-1zM62,280h1v1h-1zM65,280h1v1h-1zM66,280h1v2h-1zM93,280h1v1h-1zM94,280h1v3h-1zM101,267h1v2h-1zM102,280h1v1h-1zM103,280h1v3h-1zM107,268h1v1h-1zM109,268h1v1h-1zM112,267h1v2h-1zM117,280h1v3h-1zM124,280h1v2h-1zM132,280h1v1h-1zM133,280h1v3h-1zM135,268h1v1h-1zM136,280h1v3h-1zM142,267h1v2h-1zM145,268h1v1h-1zM147,280h1v3h-1zM148,280h1v1h-1zM150,267h1v2h-1zM150,280h1v3h-1zM152,280h1v2h-1zM153,267h1v2h-1zM154,267h1v2h-1zM154,280h1v3h-1zM160,280h1v3h-1zM172,280h1v2h-1zM177,267h1v2h-1zM179,280h1v2h-1zM182,268h1v1h-1zM188,267h1v2h-1zM199,267h1v2h-1zM201,280h1v2h-1zM204,278h1v3h-1zM205,277h1v3h-1zM208,262h1v2h-1zM209,273h1v3h-1zM211,260h1v1h-1zM213,257h1v2h-1zM221,250h1v2h-1zM223,248h1v2h-1zM229,243h1v2h-1zM232,252h1v3h-1zM234,251h1v3h-1zM238,248h1v2h-1zM245,242h1v1h-1zM247,240h1v1h-1zM259,230h1v2h-1zM260,229h1v1h-1zM262,228h1v1h-1zM268,226h1v2h-1zM271,226h1v2h-1zM276,214h1v1h-1zM276,225h1v1h-1zM289,212h1v1h-1zM290,226h1v3h-1zM291,226h1v2h-1zM293,214h1v1h-1zM294,226h1v2h-1zM295,226h1v3h-1zM297,226h1v1h-1zM298,226h1v3h-1zM299,226h1v3h-1zM302,221h1v2h-1zM303,209h1v1h-1zM310,221h1v1h-1zM312,220h1v1h-1zM319,209h1v1h-1zM320,220h1v1h-1zM323,208h1v1h-1zM324,220h1v1h-1zM325,220h1v3h-1zM326,220h1v1h-1zM334,220h1v3h-1zM336,207h1v2h-1zM343,220h1v2h-1zM346,207h1v2h-1zM352,208h1v1h-1zM352,220h1v2h-1zM353,207h1v2h-1zM355,207h1v2h-1zM356,208h1v1h-1zM360,207h1v2h-1zM361,220h1v2h-1zM373,208h1v1h-1zM374,220h1v2h-1zM376,220h1v3h-1zM378,220h1v2h-1zM380,207h1v2h-1zM380,220h1v3h-1zM385,208h1v1h-1zM390,220h1v2h-1zM394,220h1v2h-1zM397,220h1v3h-1zM398,207h1v2h-1zM399,220h1v3h-1zM400,207h1v2h-1zM402,208h1v1h-1zM404,207h1v2h-1zM404,220h1v3h-1zM406,220h1v3h-1zM409,207h1v2h-1zM410,220h1v1h-1zM418,208h1v1h-1zM425,207h1v2h-1zM426,207h1v2h-1zM442,220h1v3h-1zM443,220h1v2h-1zM450,220h1v2h-1zM451,220h1v2h-1zM460,207h1v2h-1zM464,220h1v2h-1zM467,220h1v1h-1zM477,220h1v3h-1zM478,220h1v2h-1zM481,220h1v1h-1zM484,220h1v2h-1zM490,220h1v1h-1zM495,220h1v1h-1zM499,208h1v1h-1zM501,220h1v1h-1zM503,208h1v1h-1zM504,220h1v3h-1zM508,208h1v1h-1zM509,220h1v3h-1zM510,220h1v3h-1zM515,208h1v1h-1zM519,220h1v1h-1zM522,208h1v1h-1zM524,207h1v2h-1zM535,220h1v2h-1zM539,208h1v1h-1zM545,220h1v1h-1zM547,220h1v1h-1zM549,220h1v2h-1zM568,220h1v3h-1zM570,220h1v1h-1zM572,220h1v2h-1zM574,220h1v3h-1zM575,207h1v2h-1zM582,207h1v2h-1zM583,220h1v2h-1zM587,220h1v2h-1zM591,208h1v1h-1zM591,220h1v3h-1zM592,220h1v3h-1zM593,220h1v1h-1zM594,220h1v1h-1zM596,207h1v2h-1zM601,220h1v1h-1zM604,208h1v1h-1zM606,207h1v2h-1zM612,207h1v2h-1zM612,220h1v3h-1zM616,208h1v1h-1zM619,220h1v1h-1zM622,220h1v1h-1zM626,220h1v2h-1zM628,220h1v3h-1zM632,208h1v1h-1zM636,220h1v2h-1zM637,220h1v1h-1zM642,220h1v1h-1zM646,208h1v1h-1zM649,208h1v1h-1zM649,220h1v1h-1zM650,220h1v3h-1zM652,220h1v1h-1zM654,220h1v3h-1zM658,208h1v1h-1zM660,220h1v3h-1zM662,220h1v1h-1zM663,207h1v2h-1zM675,220h1v3h-1zM682,220h1v1h-1zM687,208h1v1h-1zM687,220h1v3h-1zM690,220h1v2h-1zM694,220h1v1h-1zM698,220h1v2h-1zM706,208h1v1h-1zM710,208h1v1h-1zM710,220h1v2h-1zM711,220h1v1h-1zM712,220h1v2h-1zM713,207h1v2h-1zM714,220h1v3h-1zM721,208h1v1h-1zM727,208h1v1h-1zM731,220h1v2h-1zM743,207h1v2h-1zM749,220h1v1h-1zM751,208h1v1h-1zM757,208h1v1h-1zM757,220h1v2h-1zM761,208h1v1h-1zM764,220h1v2h-1zM774,220h1v3h-1zM777,220h1v1h-1zM784,220h1v1h-1zM789,207h1v2h-1zM795,220h1v2h-1zM803,220h1v3h-1zM805,220h1v3h-1zM806,220h1v3h-1zM807,220h1v1h-1zM813,208h1v1h-1zM814,220h1v1h-1zM815,220h1v1h-1zM816,207h1v2h-1zM816,220h1v3h-1zM817,207h1v2h-1zM817,220h1v3h-1z" fill="#545200"/><path d="M53,269H203V268H204V267H205V266H206V265H208V264H209V263H210V262H211V261H212V260H213V259H214V258H215V257H216V256H217V255H218V254H220V253H221V252H222V251H223V250H224V249H225V248H226V247H227V246H228V245H230V244H231V243H232V242H234V241H235V240H236V239H237V238H239V237H240V236H241V235H242V234H243V233H244V232H246V231H247V230H248V229H249V228H250V227H251V226H252V225H254V224H255V223H256V222H257V221H259V220H260V219H261V218H263V216H266V215H277V214H282V213H290V215H301V210H323V209H826V220H312V221H302V226H289V223H283V225H272V226H265V227H264V228H261V229H260V230H259V231H257V232H256V233H255V234H254V235H252V236H251V237H250V238H249V239H248V240H247V241H246V242H244V243H243V244H242V245H241V246H240V247H239V248H238V249H236V250H235V251H234V252H232V253H231V254H230V255H228V256H227V257H226V258H225V259H224V260H223V261H222V262H221V263H220V264H219V265H217V266H216V267H215V268H214V269H213V270H212V271H211V272H210V273H209V274H208V275H206V277H205V278H204V280H53Z" fill="url(#pyd)"/><path d="M53,271H203V270H204V269H205V268H206V267H208V266H209V265H210V264H211V263H212V262H213V261H214V260H215V259H216V258H217V257H218V256H220V255H221V254H222V253H223V252H224V251H225V250H226V249H227V248H228V247H230V246H231V245H232V244H234V243H235V242H236V241H237V240H239V239H240V238H241V237H242V236H243V235H244V234H246V233H247V232H248V231H249V230H250V229H251V228H252V227H254V226H255V225H256V224H257V223H259V222H260V221H261V220H263V218H266V217H277V216H282V215H290V217H301V212H323V211H826V217H318V218H302V223H289V220H283V222H275V223H266V224H264V225H262V226H260V227H259V228H258V229H256V230H255V231H254V232H253V233H251V234H250V235H249V236H248V237H247V238H246V239H245V240H244V241H242V242H241V243H240V244H239V245H238V246H237V247H235V248H234V249H233V250H231V251H230V252H229V253H227V254H226V255H225V256H224V257H223V258H222V259H221V260H220V261H219V262H218V263H217V264H216V265H215V266H213V267H212V268H211V269H210V270H209V271H208V272H207V273H206V274H205V275H204V277H53Z" fill="url(#pyb)"/><path d="M55,360h1v1h-1zM62,360h1v1h-1zM64,349h1v1h-1zM69,360h1v2h-1zM70,360h1v1h-1zM77,349h1v1h-1zM83,360h1v2h-1zM87,360h1v1h-1zM91,349h1v1h-1zM91,360h1v1h-1zM99,360h1v2h-1zM103,360h1v2h-1zM111,349h1v1h-1zM117,349h1v1h-1zM132,360h1v2h-1zM136,349h1v1h-1zM137,349h1v1h-1zM139,349h1v1h-1zM142,360h1v2h-1zM144,349h1v1h-1zM146,349h1v1h-1zM157,349h1v1h-1zM157,360h1v2h-1zM159,360h1v2h-1zM160,360h1v1h-1zM161,360h1v1h-1zM162,349h1v1h-1zM179,349h1v1h-1zM180,360h1v2h-1zM183,360h1v2h-1zM185,360h1v1h-1zM191,349h1v1h-1zM194,349h1v1h-1zM194,360h1v1h-1zM195,360h1v2h-1zM212,360h1v1h-1zM226,360h1v1h-1zM238,360h1v1h-1zM240,349h1v1h-1zM241,360h1v2h-1zM246,360h1v2h-1zM248,360h1v2h-1zM252,360h1v2h-1zM265,360h1v1h-1zM269,360h1v2h-1zM274,360h1v2h-1zM291,349h1v1h-1zM292,349h1v1h-1zM295,349h1v1h-1zM295,360h1v2h-1zM298,360h1v2h-1zM300,360h1v2h-1zM302,360h1v1h-1z" fill="#0000a0"/><path d="M307,374h1v1h-1zM309,384h1v2h-1zM311,374h1v1h-1zM316,384h1v1h-1zM319,384h1v2h-1zM324,384h1v1h-1zM325,384h1v2h-1zM326,374h1v1h-1zM334,374h1v1h-1zM335,384h1v2h-1zM337,374h1v1h-1zM338,374h1v1h-1zM358,374h1v1h-1zM359,374h1v1h-1zM359,384h1v1h-1zM361,384h1v1h-1zM364,384h1v2h-1zM377,374h1v1h-1zM388,374h1v1h-1zM390,384h1v2h-1zM408,384h1v1h-1zM413,384h1v1h-1zM421,374h1v1h-1zM424,374h1v1h-1zM425,384h1v1h-1zM426,374h1v1h-1zM435,374h1v1h-1zM442,374h1v1h-1zM456,384h1v1h-1zM471,384h1v1h-1zM474,374h1v1h-1zM482,374h1v1h-1zM482,384h1v1h-1zM488,374h1v1h-1zM496,384h1v2h-1zM528,384h1v2h-1zM530,384h1v2h-1zM543,384h1v2h-1zM552,384h1v2h-1zM602,384h1v2h-1zM616,384h1v2h-1zM650,374h1v1h-1zM657,374h1v1h-1zM658,374h1v1h-1zM661,374h1v1h-1zM669,374h1v1h-1zM673,384h1v2h-1zM674,384h1v2h-1zM676,374h1v1h-1zM685,374h1v1h-1zM698,384h1v1h-1zM700,374h1v1h-1zM701,374h1v1h-1zM702,374h1v1h-1zM705,384h1v1h-1zM720,384h1v2h-1zM723,384h1v1h-1zM724,384h1v2h-1zM730,374h1v1h-1zM752,374h1v1h-1zM754,384h1v2h-1zM763,384h1v2h-1zM772,384h1v2h-1zM777,374h1v1h-1zM789,384h1v2h-1zM804,384h1v1h-1zM806,384h1v2h-1zM807,374h1v1h-1zM807,384h1v2h-1zM808,374h1v1h-1zM813,374h1v1h-1zM824,384h1v2h-1z" fill="#0000a0"/><rect x="53" y="350" width="250" height="10" fill="url(#pbd)"/><rect x="53" y="353" width="250" height="5" fill="#0000ff"/><rect x="302" y="350" width="1" height="34" fill="#0000c8"/><rect x="302" y="375" width="524" height="9" fill="url(#pbd)"/><rect x="302" y="378" width="524" height="5" fill="#0000ff"/><path d="M306,375h1v1h-1zM324,375h1v1h-1zM330,375h1v1h-1zM333,375h1v1h-1zM343,375h1v1h-1zM346,375h1v1h-1zM356,375h1v1h-1zM361,375h1v1h-1zM362,375h1v1h-1zM364,375h1v1h-1zM370,375h1v1h-1zM374,375h1v1h-1zM380,375h1v1h-1zM383,375h1v1h-1zM392,375h1v1h-1zM395,375h1v1h-1zM402,375h1v1h-1zM420,375h1v1h-1zM470,375h1v1h-1zM476,375h1v1h-1zM482,375h1v1h-1zM495,375h1v1h-1zM497,375h1v1h-1zM500,375h1v1h-1zM509,375h1v1h-1zM511,375h1v1h-1zM514,375h1v1h-1zM527,375h1v1h-1zM543,375h1v1h-1zM550,375h1v1h-1zM559,375h1v1h-1zM564,375h1v1h-1zM567,375h1v1h-1zM568,375h1v1h-1zM578,375h1v1h-1zM579,375h1v1h-1zM582,375h1v1h-1zM591,375h1v1h-1zM597,375h1v1h-1zM601,375h1v1h-1zM603,375h1v1h-1zM613,375h1v1h-1zM616,375h1v1h-1zM619,375h1v1h-1zM621,375h1v1h-1zM660,375h1v1h-1zM664,375h1v1h-1zM681,375h1v1h-1zM686,375h1v1h-1zM692,375h1v1h-1zM701,375h1v1h-1zM704,375h1v1h-1zM712,375h1v1h-1zM715,375h1v1h-1zM736,375h1v1h-1zM739,375h1v1h-1zM742,375h1v1h-1zM744,375h1v1h-1zM749,375h1v1h-1zM753,375h1v1h-1zM754,375h1v1h-1zM755,375h1v1h-1zM774,375h1v1h-1zM781,375h1v1h-1zM798,375h1v1h-1zM805,375h1v1h-1zM808,375h1v1h-1zM811,375h1v1h-1z" fill="#fff"/></g><line x1="53" y1="111.5" x2="826" y2="111.5" stroke="#000" stroke-dasharray="9 6 3 6" shape-rendering="crispEdges"/><g shape-rendering="crispEdges"><line x1="240" y1="95.5" x2="299" y2="95.5" stroke="#000"/><line x1="271" y1="95.5" x2="311" y2="109.5" stroke="#000" stroke-width="1.2"/><line x1="343" y1="197.5" x2="361" y2="197.5" stroke="#000"/><line x1="352.5" y1="197.5" x2="374" y2="212.7" stroke="#000" stroke-width="1.2"/><line x1="296" y1="365.5" x2="314" y2="365.5" stroke="#000"/><line x1="305.5" y1="365.5" x2="327" y2="380.5" stroke="#000" stroke-width="1.2"/></g><g shape-rendering="crispEdges"><rect x="43" y="171" width="10" height="2" fill="#ff0080"/><rect x="43" y="171" width="1" height="3" fill="#ff0080"/><rect x="43" y="272" width="10" height="2" fill="#c0b400"/><rect x="43" y="272" width="1" height="3" fill="#c0b400"/><rect x="43" y="379" width="10" height="2" fill="#0000ff"/><rect x="43" y="379" width="1" height="3" fill="#0000ff"/><rect x="826" y="153" width="2" height="1" fill="#ff0080"/><rect x="280" y="426" width="1" height="2" fill="#ff0070"/></g><g font-family="Liberation Sans, sans-serif"><text transform="translate(58.98,60) scale(0.980,1.0)" x="0" y="0" font-size="18.5" font-weight="bold" fill="#000">V</text><text transform="translate(70.55,60) scale(1.332,1.0)" x="0" y="0" font-size="18.5" font-weight="bold" fill="#000">I</text><text transform="translate(76.69,60) scale(1.099,1.0)" x="0" y="0" font-size="18.5" font-weight="bold" fill="#000">N</text><text transform="translate(95.91,60) scale(1.024,1.0)" x="0" y="0" font-size="18.5" font-weight="bold" fill="#000">=</text><text transform="translate(111.11,60) scale(1.022,1.0)" x="0" y="0" font-size="18.5" font-weight="bold" fill="#000">1</text><text transform="translate(122.11,60) scale(1.078,1.0)" x="0" y="0" font-size="18.5" font-weight="bold" fill="#000">2</text><text transform="translate(138.08,60) scale(0.976,1.0)" x="0" y="0" font-size="18.5" font-weight="bold" fill="#000">V</text><text transform="translate(59.05,86) scale(0.919,1.07)" x="0" y="0" font-size="18.5" font-weight="bold" fill="#000">(</text><text transform="translate(65.67,86) scale(0.993,1.0)" x="0" y="0" font-size="18.5" font-weight="bold" fill="#000">V</text><text transform="translate(77.85,86) scale(0.925,1.0)" x="0" y="0" font-size="18.5" font-weight="bold" fill="#000">D</text><text transform="translate(90.75,86) scale(0.925,1.0)" x="0" y="0" font-size="18.5" font-weight="bold" fill="#000">D</text><text transform="translate(103.48,86) scale(1.128,1.0)" x="0" y="0" font-size="18.5" font-weight="bold" fill="#000">-</text><text transform="translate(109.88,86) scale(0.985,1.0)" x="0" y="0" font-size="18.5" font-weight="bold" fill="#000">V</text><text transform="translate(122.16,86) scale(0.761,1.0)" x="0" y="0" font-size="18.5" font-weight="bold" fill="#000" stroke="#000" stroke-width="0.46">E</text><text transform="translate(132.02,86) scale(0.790,1.0)" x="0" y="0" font-size="18.5" font-weight="bold" fill="#000" stroke="#000" stroke-width="0.44">E</text><text transform="translate(142.98,86) scale(0.900,1.07)" x="0" y="0" font-size="18.5" font-weight="bold" fill="#000">)</text><text transform="translate(153.81,86) scale(1.024,1.0)" x="0" y="0" font-size="18.5" font-weight="bold" fill="#000">=</text><text transform="translate(169.01,86) scale(1.022,1.0)" x="0" y="0" font-size="18.5" font-weight="bold" fill="#000">1</text><text transform="translate(180.01,86) scale(1.078,1.0)" x="0" y="0" font-size="18.5" font-weight="bold" fill="#000">2</text><text transform="translate(195.98,86) scale(0.976,1.0)" x="0" y="0" font-size="18.5" font-weight="bold" fill="#000">V</text><text transform="translate(464.35,97) scale(0.919,1.07)" x="0" y="0" font-size="18.5" font-weight="bold" fill="#000">(</text><text transform="translate(470.97,97) scale(0.993,1.0)" x="0" y="0" font-size="18.5" font-weight="bold" fill="#000">V</text><text transform="translate(483.15,97) scale(0.925,1.0)" x="0" y="0" font-size="18.5" font-weight="bold" fill="#000">D</text><text transform="translate(496.05,97) scale(0.925,1.0)" x="0" y="0" font-size="18.5" font-weight="bold" fill="#000">D</text><text transform="translate(508.78,97) scale(1.128,1.0)" x="0" y="0" font-size="18.5" font-weight="bold" fill="#000">-</text><text transform="translate(515.18,97) scale(0.985,1.0)" x="0" y="0" font-size="18.5" font-weight="bold" fill="#000">V</text><text transform="translate(527.46,97) scale(0.761,1.0)" x="0" y="0" font-size="18.5" font-weight="bold" fill="#000" stroke="#000" stroke-width="0.46">E</text><text transform="translate(537.32,97) scale(0.790,1.0)" x="0" y="0" font-size="18.5" font-weight="bold" fill="#000" stroke="#000" stroke-width="0.44">E</text><text transform="translate(548.28,97) scale(0.900,1.07)" x="0" y="0" font-size="18.5" font-weight="bold" fill="#000">)</text><text transform="translate(468.98,197) scale(0.980,1.0)" x="0" y="0" font-size="18.5" font-weight="bold" fill="#000">V</text><text transform="translate(480.55,197) scale(1.332,1.0)" x="0" y="0" font-size="18.5" font-weight="bold" fill="#000">I</text><text transform="translate(486.69,197) scale(1.099,1.0)" x="0" y="0" font-size="18.5" font-weight="bold" fill="#000">N</text><text transform="translate(489.45,365) scale(0.688,1.0)" x="0" y="0" font-size="18.5" font-weight="bold" fill="#000" stroke="#000" stroke-width="0.51">P</text><text transform="translate(499.69,365) scale(0.929,1.0)" x="0" y="0" font-size="18.5" font-weight="bold" fill="#000">G</text><polygon points="479.4,367.6 482.1,367.6 489.1,349.9 486.4,349.9" fill="#000"/></g><g shape-rendering="crispEdges"><path d="M242,85h1v1h-1zM241,86h1v1h-1zM240,87h1v1h-1zM240,88h1v1h-1zM240,89h1v1h-1zM240,90h1v1h-1zM240,91h1v1h-1zM240,92h1v1h-1zM241,93h1v1h-1zM242,94h1v1h-1zM244,85h1v1h-1zM250,85h1v1h-1zM244,86h1v1h-1zM250,86h1v1h-1zM245,87h1v1h-1zM249,87h1v1h-1zM245,88h1v1h-1zM249,88h1v1h-1zM246,89h1v1h-1zM248,89h1v1h-1zM246,90h1v1h-1zM248,90h1v1h-1zM247,91h1v1h-1zM247,92h1v1h-1zM252,85h4v1h-4zM252,86h1v1h-1zM256,86h1v1h-1zM252,87h1v1h-1zM257,87h1v1h-1zM252,88h1v1h-1zM257,88h1v1h-1zM252,89h1v1h-1zM257,89h1v1h-1zM252,90h1v1h-1zM257,90h1v1h-1zM252,91h1v1h-1zM256,91h1v1h-1zM252,92h4v1h-4zM259,85h4v1h-4zM259,86h1v1h-1zM263,86h1v1h-1zM259,87h1v1h-1zM264,87h1v1h-1zM259,88h1v1h-1zM264,88h1v1h-1zM259,89h1v1h-1zM264,89h1v1h-1zM259,90h1v1h-1zM264,90h1v1h-1zM259,91h1v1h-1zM263,91h1v1h-1zM259,92h4v1h-4zM266,90h3v1h-3zM270,90h3v1h-3zM274,85h1v1h-1zM280,85h1v1h-1zM274,86h1v1h-1zM280,86h1v1h-1zM275,87h1v1h-1zM279,87h1v1h-1zM275,88h1v1h-1zM279,88h1v1h-1zM276,89h1v1h-1zM278,89h1v1h-1zM276,90h1v1h-1zM278,90h1v1h-1zM277,91h1v1h-1zM277,92h1v1h-1zM282,85h5v1h-5zM282,86h1v1h-1zM282,87h1v1h-1zM282,88h5v1h-5zM282,89h1v1h-1zM282,90h1v1h-1zM282,91h1v1h-1zM282,92h5v1h-5zM288,85h5v1h-5zM288,86h1v1h-1zM288,87h1v1h-1zM288,88h5v1h-5zM288,89h1v1h-1zM288,90h1v1h-1zM288,91h1v1h-1zM288,92h5v1h-5zM294,85h1v1h-1zM295,86h1v1h-1zM296,87h1v1h-1zM296,88h1v1h-1zM296,89h1v1h-1zM296,90h1v1h-1zM296,91h1v1h-1zM296,92h1v1h-1zM295,93h1v1h-1zM294,94h1v1h-1z" fill="#000"/><path d="M343,187h1v1h-1zM349,187h1v1h-1zM343,188h1v1h-1zM349,188h1v1h-1zM344,189h1v1h-1zM348,189h1v1h-1zM344,190h1v1h-1zM348,190h1v1h-1zM345,191h1v1h-1zM347,191h1v1h-1zM345,192h1v1h-1zM347,192h1v1h-1zM346,193h1v1h-1zM346,194h1v1h-1zM351,187h1v1h-1zM351,188h1v1h-1zM351,189h1v1h-1zM351,190h1v1h-1zM351,191h1v1h-1zM351,192h1v1h-1zM351,193h1v1h-1zM351,194h1v1h-1zM353,187h1v1h-1zM358,187h1v1h-1zM353,188h2v1h-2zM358,188h1v1h-1zM353,189h1v1h-1zM355,189h1v1h-1zM358,189h1v1h-1zM353,190h1v1h-1zM355,190h1v1h-1zM358,190h1v1h-1zM353,191h1v1h-1zM356,191h1v1h-1zM358,191h1v1h-1zM353,192h1v1h-1zM356,192h1v1h-1zM358,192h1v1h-1zM353,193h1v1h-1zM357,193h2v1h-2zM353,194h1v1h-1zM358,194h1v1h-1z" fill="#000"/><path d="M298,355h1v1h-1zM298,356h1v1h-1zM298,357h1v1h-1zM297,358h1v1h-1zM297,359h1v1h-1zM297,360h1v1h-1zM296,361h1v1h-1zM296,362h1v1h-1zM299,355h4v1h-4zM299,356h1v1h-1zM303,356h1v1h-1zM299,357h1v1h-1zM303,357h1v1h-1zM299,358h4v1h-4zM299,359h1v1h-1zM299,360h1v1h-1zM299,361h1v1h-1zM299,362h1v1h-1zM307,355h3v1h-3zM306,356h1v1h-1zM310,356h1v1h-1zM305,357h1v1h-1zM311,357h1v1h-1zM305,358h1v1h-1zM305,359h1v1h-1zM309,359h3v1h-3zM305,360h1v1h-1zM311,360h1v1h-1zM306,361h1v1h-1zM310,361h1v1h-1zM307,362h3v1h-3z" fill="#000"/><path d="M42,161h3v1h-3zM41,162h1v1h-1zM45,162h1v1h-1zM41,163h1v1h-1zM41,164h1v1h-1zM41,165h1v1h-1zM41,166h1v1h-1zM45,166h1v1h-1zM42,167h3v1h-3zM48,161h2v1h-2zM47,162h1v1h-1zM50,162h1v1h-1zM50,163h1v1h-1zM49,164h1v1h-1zM49,165h1v1h-1zM48,166h1v1h-1zM47,167h4v1h-4z" fill="#ff0080"/><path d="M42,262h3v1h-3zM41,263h1v1h-1zM45,263h1v1h-1zM41,264h1v1h-1zM41,265h1v1h-1zM41,266h1v1h-1zM41,267h1v1h-1zM45,267h1v1h-1zM42,268h3v1h-3zM49,262h1v1h-1zM48,263h2v1h-2zM49,264h1v1h-1zM49,265h1v1h-1zM49,266h1v1h-1zM49,267h1v1h-1zM49,268h1v1h-1z" fill="#bcb800"/><path d="M42,369h3v1h-3zM41,370h1v1h-1zM45,370h1v1h-1zM41,371h1v1h-1zM41,372h1v1h-1zM41,373h1v1h-1zM41,374h1v1h-1zM45,374h1v1h-1zM42,375h3v1h-3zM48,369h2v1h-2zM47,370h1v1h-1zM50,370h1v1h-1zM50,371h1v1h-1zM49,372h1v1h-1zM50,373h1v1h-1zM47,374h1v1h-1zM50,374h1v1h-1zM48,375h2v1h-2z" fill="#0000ff"/></g></svg></body></html>
